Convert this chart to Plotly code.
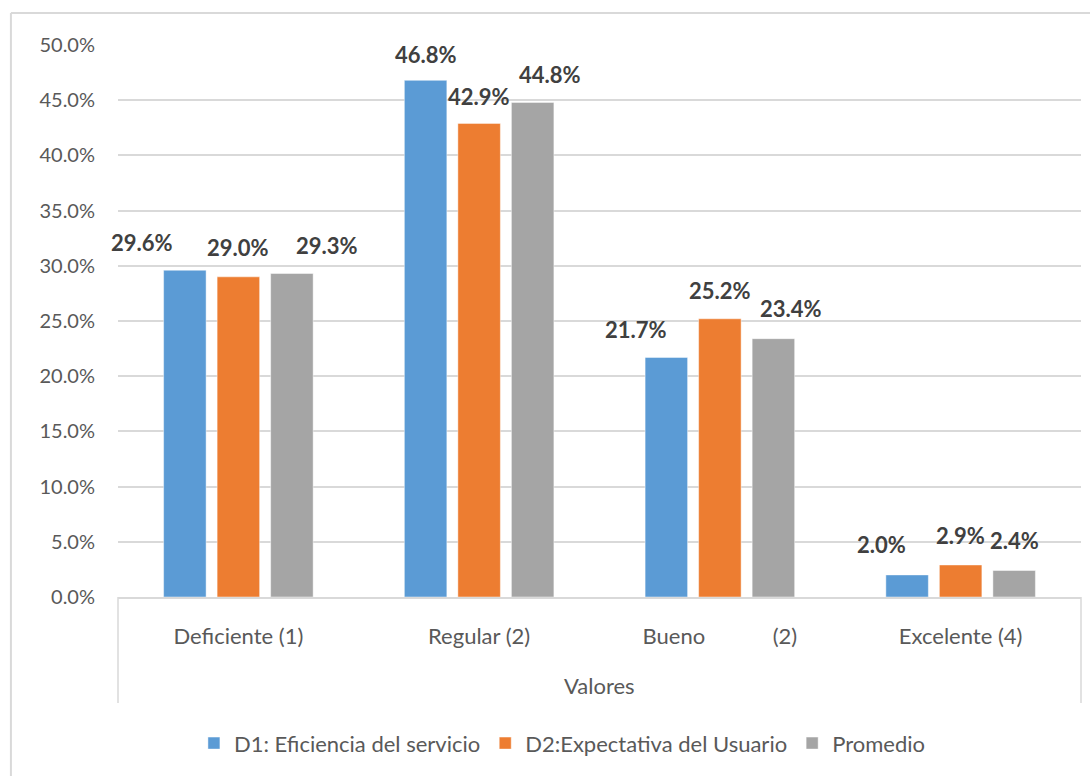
import plotly.graph_objects as go

categories = ["Deficiente (1)", "Regular (2)", "Bueno" + "\u00a0" * 12 + "(2)", "Excelente (4)"]
series_names = ["D1: Eficiencia del servicio", "D2:Expectativa del Usuario", "Promedio"]
d1_values = [0.296, 0.468, 0.217, 0.020]
d2_values = [0.290, 0.429, 0.252, 0.029]
promedio_values = [0.293, 0.448, 0.234, 0.024]
y_ticks = [0.0, 0.05, 0.10, 0.15, 0.20, 0.25, 0.30, 0.35, 0.40, 0.45, 0.50]

colors = ["#5B9BD5", "#ED7D31", "#A5A5A5"]
all_values = [d1_values, d2_values, promedio_values]

# label placement tweaks (pixels) per series / category, as in the original
series_offset_px = [-53.5, 0, 53.5]
label_dx = [[-43, 0, -30, -26], [0, 0, 0, 0], [35, 17, 18, 0]]
label_dy = [[28, 26, 28, 30], [29, 27, 28, 29], [28, 28, 30, 30]]

FONT = "Lato"
TXT = "#595959"

fig = go.Figure()
for name, vals, col in zip(series_names, all_values, colors):
    fig.add_trace(go.Bar(x=categories, y=vals, name=name,
                         marker=dict(color=col, line=dict(width=1, color="rgba(255,255,255,0.45)"))))

annotations = []
for s, vals in enumerate(all_values):
    for c, v in enumerate(vals):
        annotations.append(dict(
            x=categories[c], y=v, xref="x", yref="y",
            text=f"{v*100:.1f}%", showarrow=False,
            xshift=series_offset_px[s] + label_dx[s][c], yshift=label_dy[s][c],
            xanchor="center", yanchor="middle",
            font=dict(family=FONT, size=22, color="#404040", weight="bold"),
        ))

# x-axis second-level label
annotations.append(dict(x=0.5, y=-0.16, xref="paper", yref="paper", text="Valores",
                        showarrow=False, xanchor="center", yanchor="middle",
                        font=dict(family=FONT, size=22, color=TXT)))

line_col = "#D9D9D9"
shapes = [
    # category box sides
    dict(type="line", xref="paper", yref="paper", x0=0, x1=0, y0=0, y1=-0.192, line=dict(color=line_col, width=1.5)),
    dict(type="line", xref="paper", yref="paper", x0=1, x1=1, y0=0, y1=-0.192, line=dict(color=line_col, width=1.5)),
    # outer chart frame (top/left)
    dict(type="line", xref="paper", yref="paper", x0=-0.1112, x1=1.02, y0=1.058, y1=1.058, line=dict(color=line_col, width=2)),
    dict(type="line", xref="paper", yref="paper", x0=-0.1112, x1=-0.1112, y0=1.058, y1=-0.33, line=dict(color=line_col, width=2)),
]

fig.update_layout(
    width=1090, height=776,
    margin=dict(l=118, r=9, t=45, b=179, autoexpand=False),
    paper_bgcolor="white", plot_bgcolor="white",
    barmode="group", bargap=0.333, bargroupgap=0.206,
    font=dict(family=FONT, size=20, color=TXT),
    xaxis=dict(range=[-0.5, len(categories) - 0.5], autorange=False,
               showline=True, linecolor=line_col, linewidth=1.5, ticks="", showgrid=False, automargin=False,
               tickfont=dict(family=FONT, size=22, color=TXT), ticklabelstandoff=19),
    yaxis=dict(range=[0, 0.5], tickvals=y_ticks, tickformat=".1%", showgrid=True, automargin=False,
               gridcolor=line_col, gridwidth=1.5, zeroline=False, showline=False, ticks="",
               tickfont=dict(family=FONT, size=20, color=TXT), ticklabelstandoff=22),
    legend=dict(orientation="h", x=0.4615, xanchor="center", y=-0.265, yanchor="middle",
                font=dict(family=FONT, size=22, color=TXT), itemwidth=30),
    annotations=annotations,
    shapes=shapes,
)

fig.write_html("out.html")
